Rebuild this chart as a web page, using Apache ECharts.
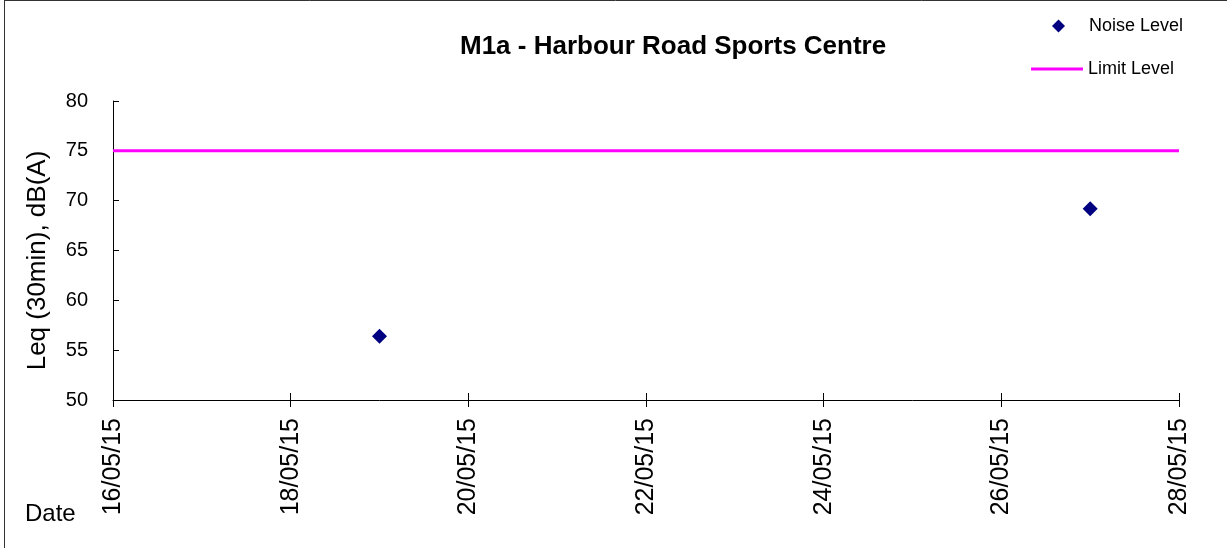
<!DOCTYPE html>
<html>
<head>
<meta charset="utf-8">
<script src="https://cdn.jsdelivr.net/npm/echarts@6/dist/echarts.min.js"></script>
<style>
html,body{margin:0;padding:0;background:#fff;}
#chart{width:1227px;height:548px;}
</style>
</head>
<body>
<div id="chart"></div>
<script>
// ---- data ----
const chartTitle = 'M1a - Harbour Road Sports Centre';
const noiseDates = ['2015-05-19', '2015-05-27'];
const noiseValues = [56.4, 69.2];
const limitDates = ['2015-05-16', '2015-05-28'];
const limitValues = [75, 75];
const xRange = ['2015-05-16', '2015-05-28'];
const yTicks = [50, 55, 60, 65, 70, 75, 80];

const DAY = 86400000;
function toMs(s){ const p = s.split('-').map(Number); return Date.UTC(p[0], p[1]-1, p[2]); }
function pad(n){ return (n < 10 ? '0' : '') + n; }
function fmtDate(v){ const d = new Date(v); return pad(d.getUTCDate()) + '/' + pad(d.getUTCMonth()+1) + '/' + pad(d.getUTCFullYear() % 100); }

const FONT = "'Liberation Sans', Arial, sans-serif";
const chart = echarts.init(document.getElementById('chart'));
const xMin = toMs(xRange[0]), xMax = toMs(xRange[1]);

chart.setOption({
  animation: false,
  backgroundColor: '#ffffff',
  title: {
    text: chartTitle,
    left: 455, top: 29,
    textStyle: { fontFamily: FONT, fontSize: 26, fontWeight: 'bold', color: '#000' }
  },
  legend: [{
    orient: 'vertical',
    left: 1047, top: 12,
    itemWidth: 13, itemHeight: 13,
    textStyle: { fontFamily: FONT, fontSize: 18, color: '#000', padding: [0, 0, 0, 19] },
    data: [{ name: 'Noise Level', icon: 'diamond' }]
  }, {
    orient: 'vertical',
    left: 1026, top: 55,
    itemWidth: 52, itemHeight: 3,
    textStyle: { fontFamily: FONT, fontSize: 18, color: '#000' },
    data: [{ name: 'Limit Level', icon: 'rect' }]
  }],
  grid: { left: 113, right: 48, top: 101, bottom: 148, containLabel: false },
  xAxis: [{
    type: 'value',
    min: xMin, max: xMax, interval: 2 * DAY,
    axisLine: { show: true, lineStyle: { color: '#000', width: 1 } },
    axisTick: { show: true, inside: false, length: 7, lineStyle: { color: '#000' } },
    splitLine: { show: false },
    axisLabel: {
      rotate: 90, margin: 18, color: '#000',
      fontFamily: FONT, fontSize: 25,
      formatter: fmtDate
    }
  }, {
    type: 'value', position: 'bottom',
    min: xMin, max: xMax, interval: 2 * DAY,
    axisLine: { show: false },
    axisTick: { show: true, inside: true, length: 7, lineStyle: { color: '#000' } },
    axisLabel: { show: false },
    splitLine: { show: false }
  }],
  yAxis: {
    type: 'value',
    min: yTicks[0], max: yTicks[yTicks.length-1], interval: 5,
    name: 'Leq (30min), dB(A)',
    nameLocation: 'middle', nameGap: 62, nameRotate: 90,
    nameTextStyle: { fontFamily: FONT, fontSize: 26, color: '#000', padding: [0, 20, 0, 0] },
    axisLine: { show: true, lineStyle: { color: '#000', width: 1 } },
    axisTick: { show: true, inside: true, length: 6, lineStyle: { color: '#000' } },
    splitLine: { show: false },
    axisLabel: { margin: 25, color: '#000', fontFamily: FONT, fontSize: 20 }
  },
  series: [{
    name: 'Noise Level',
    type: 'scatter',
    symbol: 'diamond',
    symbolSize: 15,
    itemStyle: { color: '#000080', opacity: 1 },
    data: noiseDates.map((d, i) => [toMs(d), noiseValues[i]])
  }, {
    name: 'Limit Level',
    type: 'line',
    symbol: 'none',
    showSymbol: false,
    lineStyle: { color: '#ff00ff', width: 3 },
    itemStyle: { color: '#ff00ff' },
    data: limitDates.map((d, i) => [toMs(d), limitValues[i]])
  }],
  graphic: [{
    type: 'text', left: 25, top: 502,
    style: { text: 'Date', fontFamily: FONT, fontSize: 24, fill: '#000' }
  }, {
    type: 'line', silent: true,
    shape: { x1: 4.5, y1: 0, x2: 4.5, y2: 548 },
    style: { stroke: '#333', lineWidth: 1 }
  }, {
    type: 'line', silent: true,
    shape: { x1: 4, y1: 0.5, x2: 1227, y2: 0.5 },
    style: { stroke: '#333', lineWidth: 1 }
  }]
});
</script>
</body>
</html>
